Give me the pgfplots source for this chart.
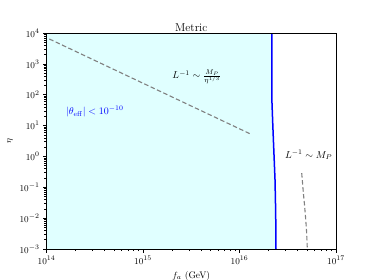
\documentclass[border=0pt]{standalone}
\usepackage{pgfplots}
\pgfplotsset{compat=1.18}
\definecolor{lcyan}{HTML}{E0FFFF}
\begin{document}
\begin{tikzpicture}
\begin{axis}[name=ax, at={(0,0)}, anchor=south west,
  scale only axis, width=289.5bp, height=216bp,
  xmode=log, ymode=log,
  xmin=1e14, xmax=1e17, ymin=1e-3, ymax=1e4,
  xtick={1e14,1e15,1e16,1e17},
  ytick={1e-3,1e-2,1e-1,1,1e1,1e2,1e3,1e4},
  minor xtick={2e14,3e14,4e14,5e14,6e14,7e14,8e14,9e14,
    2e15,3e15,4e15,5e15,6e15,7e15,8e15,9e15,
    2e16,3e16,4e16,5e16,6e16,7e16,8e16,9e16},
  minor ytick={2e-3,3e-3,4e-3,5e-3,6e-3,7e-3,8e-3,9e-3,
    2e-2,3e-2,4e-2,5e-2,6e-2,7e-2,8e-2,9e-2,
    2e-1,3e-1,4e-1,5e-1,6e-1,7e-1,8e-1,9e-1,
    2,3,4,5,6,7,8,9,20,30,40,50,60,70,80,90,
    200,300,400,500,600,700,800,900,2000,3000,4000,5000,6000,7000,8000,9000},
  tick pos=left, tick align=outside,
  major tick length=3.5bp, minor tick length=2.2bp,
  every tick/.style={black, line width=0.6bp},
  every minor tick/.style={black, line width=0.5bp},
  axis line style={black, line width=0.8bp},
  tick label style={font=\fontsize{9.5}{11}\selectfont},
  label style={font=\fontsize{9.5}{11}\selectfont},
  title style={font=\fontsize{11.5}{13}\selectfont, yshift=-8bp},
  title={Metric},
  xlabel={$f_a$ (GeV)}, ylabel={$\eta$},
  axis on top,
]
\addplot[draw=none, fill=lcyan] coordinates {
  (1e14,1e4) (2.158e16,1e4) (2.158e16,87) (2.223e16,7.2) (2.296e16,0.60)
  (2.333e16,0.174) (2.371e16,0.0145) (2.388e16,1e-3) (1e14,1e-3)
} -- cycle;
\addplot[blue, line width=1.5bp] coordinates {
  (2.158e16,1e4) (2.158e16,87) (2.223e16,7.2) (2.296e16,0.60)
  (2.333e16,0.174) (2.371e16,0.0145) (2.388e16,1e-3)
};
\addplot[gray, line width=1.1bp, dash pattern=on 4.5bp off 2.5bp] coordinates {
  (1.07e14,6400) (1.31e16,5.27)
};
\addplot[gray, line width=1.1bp, dash pattern=on 4.5bp off 2.5bp, smooth] coordinates {
  (4.41e16,0.288) (4.60e16,0.06) (4.73e16,0.024) (4.94e16,4.2e-3) (5.04e16,1e-3)
};
\node[font=\fontsize{10}{12}\selectfont] at (axis cs:3.6e15,380) {$L^{-1}\sim\frac{M_P}{\eta^{1/3}}$};
\node[font=\fontsize{10}{12}\selectfont, text=blue] at (axis cs:3.17e14,28) {$|\theta_{\rm eff}|<10^{-10}$};
\node[font=\fontsize{10}{12}\selectfont] at (axis cs:5.2e16,1.1) {$L^{-1}\sim M_P$};
\end{axis}
\pgfresetboundingbox
\path[use as bounding box] ([shift={(-46.5bp,-31bp)}]ax.south west) rectangle ([shift={(38bp,33bp)}]ax.north east);
\end{tikzpicture}
\end{document}
